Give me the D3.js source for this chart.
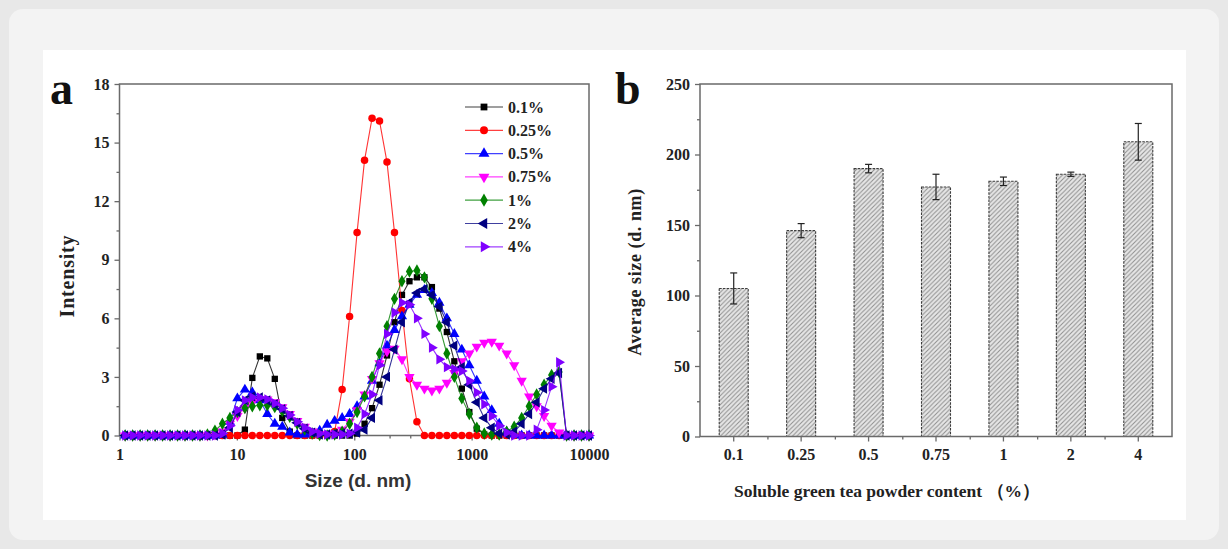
<!DOCTYPE html>
<html>
<head>
<meta charset="utf-8">
<script src="https://cdn.jsdelivr.net/npm/d3@7"></script>
<style>
  html, body { margin: 0; padding: 0; background: #e8e8e8; }
  svg { display: block; }
  text { font-family: "Liberation Serif", "Times New Roman", serif; }
</style>
</head>
<body>
<svg id="fig" width="1228" height="549"></svg>
<script>
// ---------- panel a: DLS size distributions ----------
const sizes = [
  1.117, 1.294, 1.499, 1.736, 2.010, 2.328, 2.696, 3.122, 3.615, 4.187, 4.849, 5.615, 6.503, 7.531, 8.721,
  10.10, 11.70, 13.54, 15.69, 18.17, 21.04, 24.36, 28.21, 32.67, 37.84, 43.82, 50.75, 58.77, 68.06, 78.82, 91.28,
  105.7, 122.4, 141.8, 164.2, 190.1, 220.2, 255.0, 295.3, 342.0, 396.1, 458.7, 531.2, 615.1, 712.4, 825.0, 955.4,
  1106, 1281, 1484, 1718, 1990, 2305, 2669, 3091, 3580, 4145, 4801, 5560, 6439, 7456, 8635, 10000
];
const int01 = [
  0, 0, 0, 0, 0, 0, 0, 0, 0, 0, 0, 0, 0, 0, 0,
  0, 0.3, 2.95, 4.05, 3.95, 2.9, 0.9, 0.2, 0, 0, 0, 0, 0, 0, 0, 0,
  0.1, 0.6, 1.4, 2.6, 4.1, 5.8, 7.2, 7.9, 8.1, 8.1, 7.6, 6.5, 5.3, 3.8, 2.4, 1.2,
  0.35, 0.05, 0, 0, 0, 0, 0, 0, 0, 0, 0, 0, 0, 0, 0, 0
];
const int025 = [
  0, 0, 0, 0, 0, 0, 0, 0, 0, 0, 0, 0, 0, 0, 0,
  0, 0, 0, 0, 0, 0, 0, 0, 0, 0, 0, 0, 0, 0.2, 2.35, 6.1,
  10.4, 14.1, 16.25, 16.1, 14.0, 10.4, 6.4, 2.9, 0.7, 0, 0, 0, 0, 0, 0, 0,
  0, 0, 0, 0, 0, 0, 0, 0, 0, 0, 0, 0, 0, 0, 0, 0
];
const int05 = [
  0, 0, 0, 0, 0, 0, 0, 0, 0, 0, 0, 0, 0, 0.05, 0.7,
  1.9, 2.35, 2.2, 1.8, 1.1, 0.6, 0.45, 0.15, 0.05, 0.05, 0.1, 0.25, 0.55, 0.75, 0.9, 1.1,
  1.5, 2.0, 2.8, 3.7, 4.6, 5.4, 6.1, 6.7, 7.2, 7.45, 7.3, 6.8, 6.0, 5.2, 4.4, 3.6,
  2.8, 2.0, 1.3, 0.6, 0.2, 0.05, 0, 0, 0, 0, 0, 0, 0, 0, 0, 0
];
const int075 = [
  0, 0, 0, 0, 0, 0, 0, 0, 0, 0, 0, 0, 0.05, 0.2, 0.6,
  1.0, 1.4, 1.7, 1.85, 1.85, 1.7, 1.45, 1.1, 0.75, 0.45, 0.2, 0.08, 0.05, 0.1, 0.3, 0.7,
  1.3, 2.1, 2.9, 3.7, 4.3, 4.45, 3.9, 3.0, 2.6, 2.4, 2.3, 2.4, 2.7, 3.2, 3.8, 4.2,
  4.55, 4.75, 4.8, 4.6, 4.2, 3.6, 2.8, 2.0, 1.5, 1.0, 0.5, 0.15, 0, 0, 0, 0
];
const int1 = [
  0, 0, 0, 0, 0, 0, 0, 0, 0, 0, 0, 0.05, 0.25, 0.6, 0.9,
  1.2, 1.4, 1.5, 1.55, 1.55, 1.45, 1.25, 0.95, 0.6, 0.3, 0.1, 0.02, 0, 0.05, 0.2, 0.6,
  1.2, 2.0, 3.0, 4.2, 5.6, 7.0, 7.9, 8.4, 8.45, 8.1, 7.0, 5.6, 4.2, 3.0, 1.9, 1.1,
  0.4, 0.1, 0.05, 0.05, 0.2, 0.45, 0.9, 1.5, 2.1, 2.6, 3.1, 3.25, 0, 0, 0, 0
];
const int2 = [
  0, 0, 0, 0, 0, 0, 0, 0, 0, 0, 0, 0, 0, 0.05, 0.4,
  1.2, 1.8, 2.0, 1.95, 1.8, 1.6, 1.35, 1.0, 0.65, 0.35, 0.15, 0.05, 0.05, 0.1, 0.1, 0.1,
  0.15, 0.3, 0.9, 1.8, 3.0, 4.4, 5.8, 6.8, 7.3, 7.5, 7.2, 6.6, 5.8, 4.6, 3.5, 2.6,
  1.7, 0.9, 0.4, 0.1, 0.05, 0.2, 0.6, 1.1, 1.7, 2.4, 2.9, 3.2, 0, 0, 0, 0
];
const int4 = [
  0, 0, 0, 0, 0, 0, 0, 0, 0, 0, 0, 0, 0, 0.1, 0.5,
  1.3, 1.8, 1.95, 1.95, 1.85, 1.65, 1.4, 1.05, 0.7, 0.4, 0.2, 0.1, 0.05, 0.05, 0.05, 0.1,
  0.4, 1.1, 2.1, 3.6, 5.2, 6.3, 6.8, 6.7, 6.0, 5.2, 4.5, 3.9, 3.5, 3.4, 3.3, 2.8,
  2.2, 1.6, 1.0, 0.5, 0.15, 0, 0, 0, 0.3, 1.3, 2.5, 3.75, 0, 0, 0, 0
];
const seriesLabels = ["0.1%", "0.25%", "0.5%", "0.75%", "1%", "2%", "4%"];
const seriesColors = ["#000000", "#ff0000", "#0000ff", "#ff00ff", "#008000", "#000080", "#8000ff"];
const intensityTicks = [0, 3, 6, 9, 12, 15, 18];
const sizeTicks = [1, 10, 100, 1000, 10000];

// ---------- panel b: average particle size ----------
const barCategories = ["0.1", "0.25", "0.5", "0.75", "1", "2", "4"];
const barMeans = [105, 146, 190, 177, 181, 186, 209];
const barErrors = [11, 5, 3, 9, 3, 1.5, 13];
const avgTicks = [0, 50, 100, 150, 200, 250];

const svg = d3.select("#fig");

// page card and figure background
svg.append("rect").attr("x", 9).attr("y", 9).attr("width", 1210).attr("height", 531)
  .attr("rx", 14).attr("fill", "#f3f3f3");
svg.append("rect").attr("x", 43).attr("y", 50).attr("width", 1143).attr("height", 470)
  .attr("fill", "#ffffff");

// hatch pattern for the bars
const defs = svg.append("defs");
const pat = defs.append("pattern").attr("id", "hatch").attr("patternUnits", "userSpaceOnUse")
  .attr("width", 4.5).attr("height", 4.5);
pat.append("rect").attr("width", 4.5).attr("height", 4.5).attr("fill", "#e6e6e6");
pat.append("path").attr("d", "M-1,1 l2,-2 M0,4.5 l4.5,-4.5 M3.5,5.5 l2,-2")
  .attr("stroke", "#8e8e8e").attr("stroke-width", 1.0);

const axisColor = "#6a6a6a";
const tickFont = 16;

function styleAxis(g) {
  g.select(".domain").remove();
  g.selectAll(".tick line").attr("stroke", axisColor).attr("stroke-width", 1.3);
  g.selectAll(".tick text").attr("fill", "#222").attr("font-weight", "bold")
    .style("font-family", "'Liberation Serif', serif").attr("font-size", tickFont);
}

// ===== panel a =====
const L = { x0: 119.5, x1: 589, y0: 84, y1: 435.5 };
const xL = d3.scaleLog().domain([1, 10000]).range([L.x0, L.x1]);
const yL = d3.scaleLinear().domain([0, 18]).range([L.y1, L.y0]);

const gA = svg.append("g");

// minor ticks
const minorLog = [];
for (let e = 0; e < 4; e++) for (let m = 2; m <= 9; m++) minorLog.push(m * Math.pow(10, e));
gA.append("g").attr("transform", `translate(0,${L.y1})`)
  .call(d3.axisBottom(xL).tickValues(minorLog).tickSize(3).tickFormat(""))
  .call(styleAxis);
gA.append("g").attr("transform", `translate(0,${L.y1})`)
  .call(d3.axisBottom(xL).tickValues(sizeTicks).tickSize(5).tickPadding(8).tickFormat(d3.format("d")))
  .call(styleAxis);
gA.append("g").attr("transform", `translate(${L.x0},0)`)
  .call(d3.axisLeft(yL).tickValues(d3.range(1.5, 18, 3)).tickSize(3).tickFormat(""))
  .call(styleAxis);
gA.append("g").attr("transform", `translate(${L.x0},0)`)
  .call(d3.axisLeft(yL).tickValues(intensityTicks).tickSize(5).tickPadding(5))
  .call(styleAxis);

gA.append("rect").attr("x", L.x0).attr("y", L.y0).attr("width", L.x1 - L.x0).attr("height", L.y1 - L.y0)
  .attr("fill", "none").attr("stroke", axisColor).attr("stroke-width", 1.5);

const allSeries = [int01, int025, int05, int075, int1, int2, int4];
const symbols = [
  { type: d3.symbolSquare, size: 40, rot: 0 },
  { type: d3.symbolCircle, size: 44, rot: 0 },
  { type: d3.symbolTriangle, size: 46, rot: 0 },
  { type: d3.symbolTriangle, size: 46, rot: 180 },
  { type: d3.symbolDiamond, size: 44, rot: 0 },
  { type: d3.symbolTriangle, size: 46, rot: -90 },
  { type: d3.symbolTriangle, size: 46, rot: 90 }
];

const lineGen = d3.line().x(d => xL(d.s)).y(d => yL(d.v));
const plotA = gA.append("g");
allSeries.forEach((vals, i) => {
  const pts = sizes.map((s, k) => ({ s, v: vals[k] }));
  const g = plotA.append("g");
  g.append("path").datum(pts).attr("d", lineGen).attr("fill", "none")
    .attr("stroke", seriesColors[i]).attr("stroke-width", 1.1).attr("stroke-opacity", 0.8);
  g.selectAll("path.m").data(pts).join("path").attr("class", "m")
    .attr("d", d3.symbol().type(symbols[i].type).size(symbols[i].size))
    .attr("transform", d => `translate(${xL(d.s)},${yL(d.v)}) rotate(${symbols[i].rot})`)
    .attr("fill", seriesColors[i]);
});

// legend
const leg = gA.append("g");
seriesLabels.forEach((lab, i) => {
  const y = 107 + i * 23.3;
  leg.append("line").attr("x1", 465).attr("x2", 503).attr("y1", y).attr("y2", y)
    .attr("stroke", seriesColors[i]).attr("stroke-width", 1.2).attr("stroke-opacity", 0.75);
  leg.append("path").attr("d", d3.symbol().type(symbols[i].type).size(symbols[i].size + 6))
    .attr("transform", `translate(484,${y}) rotate(${symbols[i].rot})`).attr("fill", seriesColors[i]);
  leg.append("text").attr("x", 508).attr("y", y + 5.5).text(lab)
    .attr("font-size", 16).attr("font-weight", "bold").attr("fill", "#222");
});

// titles
gA.append("text").attr("x", 50).attr("y", 104).text("a")
  .attr("font-size", 46).attr("font-weight", "bold").attr("fill", "#111");
gA.append("text").attr("transform", "translate(74,276) rotate(-90)").attr("text-anchor", "middle")
  .text("Intensity").attr("font-size", 20).attr("font-weight", "bold").attr("letter-spacing", 0.8)
  .attr("fill", "#222");
gA.append("text").attr("x", 358).attr("y", 487).attr("text-anchor", "middle")
  .text("Size (d. nm)").style("font-family", "'Liberation Sans', Arial, sans-serif")
  .attr("font-size", 19).attr("font-weight", "bold").attr("fill", "#333");

// ===== panel b =====
const R = { x0: 700, x1: 1172, y0: 84, y1: 436.5 };
const xR = d3.scaleBand().domain(barCategories).range([R.x0, R.x1]).paddingInner(0.57).paddingOuter(0.285);
const yR = d3.scaleLinear().domain([0, 250]).range([R.y1, R.y0]);

const gB = svg.append("g");
const step = xR.step();
const catMid = barCategories.slice(0, -1).map(c => xR(c) + xR.bandwidth() / 2 + step / 2);

gB.append("g").attr("transform", `translate(0,${R.y1})`)
  .call(d3.axisBottom(d3.scaleIdentity()).tickValues(catMid).tickSize(3).tickFormat(""))
  .call(styleAxis);
gB.append("g").attr("transform", `translate(0,${R.y1})`)
  .call(d3.axisBottom(xR).tickSize(5).tickPadding(7))
  .call(styleAxis);
gB.append("g").attr("transform", `translate(${R.x0},0)`)
  .call(d3.axisLeft(yR).tickValues(d3.range(25, 250, 50)).tickSize(3).tickFormat(""))
  .call(styleAxis);
gB.append("g").attr("transform", `translate(${R.x0},0)`)
  .call(d3.axisLeft(yR).tickValues(avgTicks).tickSize(5).tickPadding(5))
  .call(styleAxis);

gB.selectAll("rect.bar").data(barCategories).join("rect").attr("class", "bar")
  .attr("x", c => xR(c)).attr("width", xR.bandwidth())
  .attr("y", (c, i) => yR(barMeans[i])).attr("height", (c, i) => yR(0) - yR(barMeans[i]))
  .attr("fill", "url(#hatch)").attr("stroke", "#3c3c3c").attr("stroke-width", 1.1)
  .attr("stroke-dasharray", "2.5,1.2");

const eb = gB.append("g").attr("stroke", "#222").attr("stroke-width", 1.2);
barCategories.forEach((c, i) => {
  const cx = xR(c) + xR.bandwidth() / 2;
  const yt = yR(barMeans[i] + barErrors[i]), yb = yR(barMeans[i] - barErrors[i]);
  eb.append("line").attr("x1", cx).attr("x2", cx).attr("y1", yt).attr("y2", yb);
  eb.append("line").attr("x1", cx - 3.5).attr("x2", cx + 3.5).attr("y1", yt).attr("y2", yt);
  eb.append("line").attr("x1", cx - 3.5).attr("x2", cx + 3.5).attr("y1", yb).attr("y2", yb);
});

gB.append("rect").attr("x", R.x0).attr("y", R.y0).attr("width", R.x1 - R.x0).attr("height", R.y1 - R.y0)
  .attr("fill", "none").attr("stroke", axisColor).attr("stroke-width", 1.5);

gB.append("text").attr("x", 615).attr("y", 104).text("b")
  .attr("font-size", 46).attr("font-weight", "bold").attr("fill", "#111");
gB.append("text").attr("transform", "translate(641,272) rotate(-90)").attr("text-anchor", "middle")
  .text("Average size (d. nm)").attr("font-size", 18).attr("font-weight", "bold").attr("letter-spacing", 0.6)
  .attr("fill", "#222");
gB.append("text").attr("x", 887).attr("y", 497).attr("text-anchor", "middle")
  .text("Soluble green tea powder content （%）").attr("font-size", 17.5).attr("font-weight", "bold")
  .attr("fill", "#222");
</script>
</body>
</html>
